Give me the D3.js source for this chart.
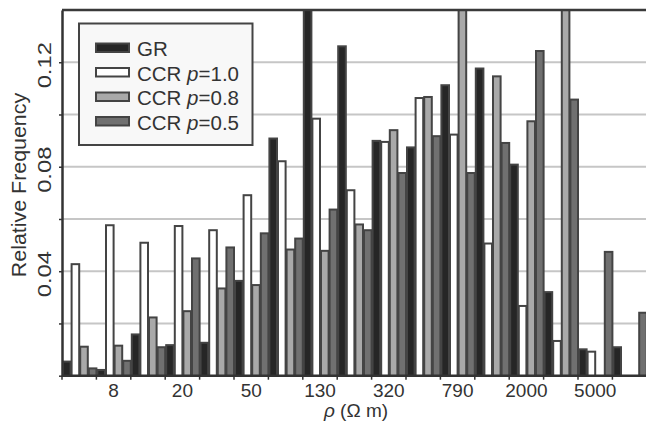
<!DOCTYPE html>
<html>
<head>
<meta charset="utf-8">
<script src="https://cdn.jsdelivr.net/npm/d3@7"></script>
<style>
    body { margin: 0; background: #fff; }
    svg { display: block; font-family: "Liberation Sans", Arial, sans-serif; }
</style>
</head>
<body>
<div id="chart"></div>
<script>
// bin centres in ohm m (only every other one is labelled)
var bins = ["5", "8", "13", "20", "32", "50", "79", "130", "200", "320", "500", "790", "1300", "2000", "3200", "5000", "7900"];
var tickLabels = ["8", "20", "50", "130", "320", "790", "2000", "5000"];

var seriesNames = ["GR", "CCR p=1.0", "CCR p=0.8", "CCR p=0.5"];

// relative frequency per bin (0.14 = bar runs off the top)
var gr    = [0.0054, 0.0022, 0.0158, 0.0117, 0.0126, 0.0363, 0.0908, 0.1400, 0.1261, 0.0899, 0.0874, 0.1112, 0.1176, 0.0808, 0.0320, 0.0101, 0.0109];
var ccr10 = [0.0427, 0.0576, 0.0509, 0.0573, 0.0557, 0.0691, 0.0821, 0.0984, 0.0710, 0.0895, 0.1063, 0.0923, 0.0506, 0.0267, 0.0133, 0.0092, 0];
var ccr08 = [0.0111, 0.0115, 0.0223, 0.0247, 0.0334, 0.0347, 0.0483, 0.0478, 0.0579, 0.0940, 0.1067, 0.1400, 0.1146, 0.0974, 0.1400, 0, 0];
var ccr05 = [0.0028, 0.0057, 0.0109, 0.0449, 0.0491, 0.0545, 0.0525, 0.0636, 0.0557, 0.0776, 0.0917, 0.0776, 0.0891, 0.1243, 0.1057, 0.0474, 0.0241];

var yGridTicks = [0.02, 0.04, 0.06, 0.08, 0.10, 0.12];
var yLabelTicks = [0.04, 0.08, 0.12];

(function() {
    var width = 646,
        height = 425,
        left = 62,
        right = 646.8,
        top = 10,
        bottom = 375.7,
        fills = ["#262626", "#ffffff", "#a9a9a9", "#707070"],
        edge = "#444",
        series = [gr, ccr10, ccr08, ccr05];

    var svg = d3.select("#chart").append("svg")
                .attr("width", width)
                .attr("height", height);

    var x = d3.scaleBand()
              .domain(bins)
              .range([left, right])
              .padding(0);

    var xs = d3.scaleBand()
               .domain(d3.range(series.length))
               .range([0, x.bandwidth()])
               .padding(0);

    var y = d3.scaleLinear()
              .domain([0, 0.14])
              .range([bottom, top]);

    // grid
    svg.append("g")
       .selectAll("line")
       .data(yGridTicks)
       .enter()
       .append("line")
       .attr("x1", left)
       .attr("x2", width)
       .attr("y1", function(d) {return y(d); })
       .attr("y2", function(d) {return y(d); })
       .style("stroke", "#c6c6c6")
       .style("stroke-width", 2);

    svg.append("clipPath")
       .attr("id", "plotClip")
       .append("rect")
       .attr("x", left)
       .attr("y", top)
       .attr("width", width - left)
       .attr("height", bottom - top);

    var barData = [];
    bins.forEach(function(b, i) {
        series.forEach(function(s, j) {
            if (s[i] > 0) {
                barData.push({bin : b, series : j, value : s[i]});
            }
        });
    });

    svg.append("g")
       .attr("clip-path", "url(#plotClip)")
       .selectAll("rect")
       .data(barData)
       .enter()
       .append("rect")
       .attr("x", function(d) {return x(d.bin) + xs(d.series) + 1; })
       .attr("width", xs.bandwidth() - 1)
       .attr("y", function(d) {return y(d.value); })
       .attr("height", function(d) {return bottom - y(d.value) + 2; })
       .style("fill", function(d) {return fills[d.series]; })
       .style("stroke", edge)
       .style("stroke-width", 2);

    // frame: top line, left and bottom axis
    svg.append("line")
       .attr("x1", left).attr("x2", width)
       .attr("y1", top).attr("y2", top)
       .style("stroke", "#3a3a3a").style("stroke-width", 2.5);

    var yAxis = svg.append("g")
                   .attr("transform", "translate(" + left + ",0)")
                   .call(d3.axisLeft(y)
                           .tickValues([0].concat(yGridTicks))
                           .tickSize(3)
                           .tickSizeOuter(0)
                           .tickFormat(""));
    yAxis.select(".domain").style("stroke", "#333").style("stroke-width", 2.5);
    yAxis.selectAll(".tick line").style("stroke", "#333").style("stroke-width", 1.5);

    var xAxis = svg.append("g")
                   .attr("transform", "translate(0," + bottom + ")")
                   .call(d3.axisBottom(x)
                           .tickValues(tickLabels)
                           .tickSize(0)
                           .tickSizeOuter(0)
                           .tickPadding(8));
    xAxis.select(".domain").remove();
    xAxis.selectAll(".tick text")
         .style("font-family", "Liberation Sans, Arial, sans-serif")
         .style("font-size", "19px")
         .style("fill", "#333")
         .attr("dy", "0.72em");

    svg.append("line")
       .attr("x1", left).attr("x2", width)
       .attr("y1", bottom).attr("y2", bottom)
       .style("stroke", "#333").style("stroke-width", 2.5);

    // tick marks sit on the bin edges
    svg.append("g")
       .selectAll("line")
       .data(bins)
       .enter()
       .append("line")
       .attr("x1", function(d) {return x(d); })
       .attr("x2", function(d) {return x(d); })
       .attr("y1", bottom)
       .attr("y2", bottom + 4)
       .style("stroke", "#333")
       .style("stroke-width", 1.5);

    // y tick labels (rotated, drawn a little stretched like the source)
    svg.append("g")
       .selectAll("text")
       .data(yLabelTicks)
       .enter()
       .append("text")
       .attr("transform", function(d) {return "translate(50.5," + (y(d) + 3) + ") rotate(-90) scale(1.25,1)"; })
       .attr("text-anchor", "middle")
       .style("font-size", "19px")
       .style("fill", "#333")
       .text(function(d) {return d.toFixed(2); });

    svg.append("text")
       .attr("transform", "translate(26,185) rotate(-90) scale(1.07,1)")
       .attr("text-anchor", "middle")
       .style("font-size", "20px")
       .style("fill", "#333")
       .text("Relative Frequency");

    var xLabel = svg.append("text")
                    .attr("x", 356)
                    .attr("y", 417)
                    .attr("text-anchor", "middle")
                    .style("font-size", "19px")
                    .style("fill", "#333");
    xLabel.append("tspan").style("font-style", "italic").text("ρ");
    xLabel.append("tspan").text(" (Ω m)");

    // legend
    var legend = svg.append("g");
    legend.append("rect")
          .attr("x", 79)
          .attr("y", 23.5)
          .attr("width", 173.5)
          .attr("height", 121.5)
          .style("fill", "#f8f8f8")
          .style("stroke", "#444")
          .style("stroke-width", 2);

    var rows = legend.selectAll(".legendRow")
                     .data(seriesNames)
                     .enter()
                     .append("g")
                     .attr("class", "legendRow")
                     .attr("transform", function(d, i) {return "translate(0," + (56 + i * 24.5) + ")"; });

    rows.append("rect")
        .attr("x", 96)
        .attr("y", -12.5)
        .attr("width", 33)
        .attr("height", 8.5)
        .style("fill", function(d, i) {return fills[i]; })
        .style("stroke", edge)
        .style("stroke-width", 2);

    rows.each(function(d) {
        var t = d3.select(this).append("text")
                  .attr("x", 137)
                  .style("font-size", "20.5px")
                  .style("fill", "#333");
        var m = d.match(/^(CCR )p(=.*)$/);
        if (m) {
            t.append("tspan").text(m[1]);
            t.append("tspan").style("font-style", "italic").text("p");
            t.append("tspan").text(m[2]);
        } else {
            t.text(d);
        }
    });
})();
</script>
</body>
</html>
